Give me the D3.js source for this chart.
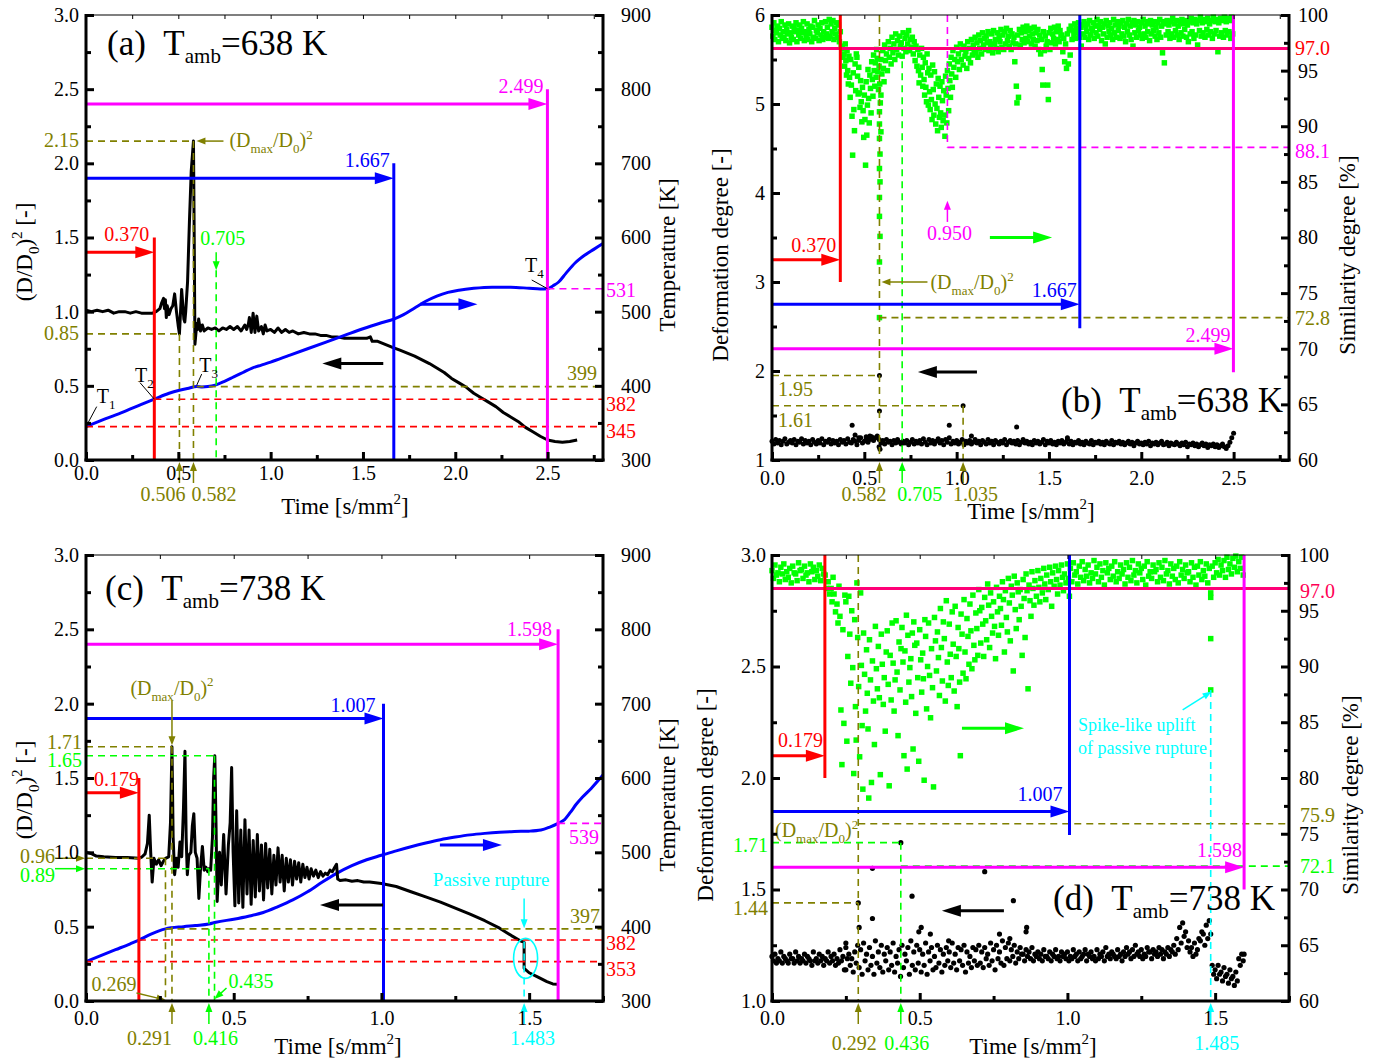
<!DOCTYPE html>
<html><head><meta charset="utf-8">
<script src="https://cdn.jsdelivr.net/npm/d3@7"></script>
<style>body{margin:0;background:#fff}svg{display:block}</style>
</head><body>
<script>
// ================= DATA =================
// Panel (a): (D/D0)^2 vs time, temperature vs time  [time, value]
const aDiamPts=[[0,1.01],[0.03,1.00],[0.06,1.01],[0.09,1.00],[0.12,1.01],[0.15,0.99],[0.18,1.00],[0.21,1.00],[0.24,0.99],[0.27,1.00],[0.30,0.99],[0.33,0.99],[0.36,0.99],[0.38,1.00],[0.40,1.02],[0.41,1.06],[0.42,1.09],[0.425,1.02],[0.43,1.08],[0.435,0.96],[0.44,1.04],[0.45,0.98],[0.46,1.02],[0.47,1.04],[0.48,1.12],[0.49,1.00],[0.50,0.90],[0.506,0.85],[0.512,1.00],[0.518,1.15],[0.524,1.05],[0.53,0.95],[0.535,0.93],[0.54,1.00],[0.55,1.20],[0.56,1.60],[0.57,1.95],[0.582,2.15],[0.586,1.50],[0.59,0.78],[0.595,0.85],[0.60,0.92],[0.605,0.88],[0.61,0.95],[0.62,0.87],[0.63,0.91],[0.64,0.87],[0.66,0.89],[0.68,0.88],[0.70,0.89],[0.72,0.87],[0.74,0.89],[0.76,0.88],[0.78,0.90],[0.80,0.88],[0.82,0.90],[0.84,0.87],[0.86,0.91],[0.87,0.88],[0.88,0.92],[0.885,0.96],[0.895,0.86],[0.905,0.99],[0.915,0.86],[0.925,0.97],[0.935,0.87],[0.95,0.90],[0.96,0.85],[0.97,0.91],[0.98,0.87],[1.00,0.88],[1.02,0.86],[1.04,0.89],[1.06,0.86],[1.08,0.88],[1.10,0.86],[1.12,0.87],[1.15,0.85],[1.18,0.86],[1.21,0.85],[1.24,0.85],[1.27,0.84],[1.30,0.84],[1.33,0.83],[1.36,0.83],[1.40,0.82],[1.44,0.82],[1.48,0.82],[1.52,0.82],[1.54,0.83],[1.55,0.80],[1.58,0.80],[1.62,0.78],[1.66,0.76],[1.70,0.74],[1.74,0.72],[1.78,0.70],[1.82,0.675],[1.86,0.65],[1.90,0.62],[1.94,0.59],[1.98,0.55],[2.02,0.52],[2.06,0.49],[2.10,0.45],[2.14,0.42],[2.18,0.39],[2.22,0.36],[2.26,0.32],[2.30,0.29],[2.34,0.26],[2.38,0.22],[2.42,0.19],[2.46,0.16],[2.50,0.135],[2.54,0.125],[2.58,0.12],[2.62,0.125],[2.66,0.135]];
const aTempPts=[[0,345],[0.1,355],[0.2,364.5],[0.3,375],[0.37,382],[0.45,390],[0.506,394],[0.55,396.5],[0.6,399],[0.63,398.5],[0.66,399],[0.7,401],[0.75,406],[0.8,412],[0.85,418],[0.9,424],[0.95,428],[1.0,432],[1.1,441],[1.2,450],[1.3,459],[1.4,468],[1.5,477],[1.6,485],[1.667,490],[1.72,496],[1.78,505],[1.84,514],[1.9,521],[1.96,526],[2.02,529],[2.1,531.5],[2.2,533],[2.3,533],[2.4,531.5],[2.46,530.5],[2.499,531],[2.53,535],[2.56,540],[2.6,552],[2.65,566],[2.7,576],[2.75,584],[2.8,592]];
// Panel (c)
const cDiamPts=[[0,1.00],[0.02,0.99],[0.035,0.975],[0.06,0.97],[0.10,0.965],[0.14,0.965],[0.179,0.96],[0.19,0.97],[0.20,0.99],[0.208,1.06],[0.214,1.25],[0.219,1.00],[0.224,0.80],[0.23,0.96],[0.238,0.92],[0.246,0.95],[0.254,0.91],[0.262,0.94],[0.269,0.96],[0.28,0.97],[0.286,1.20],[0.291,1.71],[0.295,1.10],[0.30,0.85],[0.306,0.96],[0.312,0.90],[0.318,1.07],[0.324,0.97],[0.33,1.30],[0.335,1.68],[0.339,1.10],[0.343,0.85],[0.348,0.98],[0.355,1.00],[0.36,1.18],[0.365,1.26],[0.37,1.00],[0.376,0.96],[0.382,0.69],[0.388,0.90],[0.394,1.04],[0.40,0.88],[0.406,0.90],[0.412,0.87],[0.416,0.89],[0.422,0.88],[0.428,1.10],[0.432,1.50],[0.436,1.65],[0.44,1.20],[0.444,0.67],[0.452,1.00],[0.458,0.78],[0.466,1.12],[0.474,0.72],[0.482,1.05],[0.488,1.20],[0.493,1.57],[0.498,1.00],[0.504,0.64],[0.51,1.28],[0.517,0.66],[0.524,1.15],[0.531,0.63],[0.538,1.22],[0.545,0.72],[0.552,1.15],[0.559,0.65],[0.566,1.08],[0.573,0.70],[0.58,1.12],[0.587,0.74],[0.594,1.05],[0.601,0.68],[0.608,1.06],[0.615,0.76],[0.622,1.02],[0.629,0.72],[0.636,0.98],[0.643,0.78],[0.65,1.03],[0.657,0.80],[0.664,0.98],[0.671,0.74],[0.678,0.96],[0.685,0.80],[0.692,0.95],[0.699,0.78],[0.706,0.94],[0.713,0.82],[0.72,0.93],[0.727,0.80],[0.734,0.92],[0.741,0.83],[0.748,0.90],[0.755,0.82],[0.762,0.89],[0.77,0.84],[0.778,0.88],[0.786,0.83],[0.794,0.87],[0.802,0.84],[0.81,0.86],[0.818,0.85],[0.826,0.88],[0.834,0.87],[0.842,0.90],[0.848,0.92],[0.852,0.82],[0.86,0.81],[0.88,0.815],[0.90,0.805],[0.92,0.81],[0.94,0.80],[0.96,0.80],[0.98,0.795],[1.00,0.79],[1.05,0.77],[1.10,0.735],[1.15,0.70],[1.20,0.665],[1.25,0.625],[1.30,0.585],[1.35,0.54],[1.40,0.49],[1.44,0.44],[1.47,0.405],[1.483,0.395],[1.483,0.22],[1.50,0.19],[1.53,0.16],[1.56,0.13],[1.58,0.115],[1.598,0.112]];
const cTempPts=[[0,353],[0.05,361],[0.1,369],[0.15,377],[0.179,382],[0.22,390],[0.269,397],[0.33,400],[0.37,401.5],[0.416,403.5],[0.44,406],[0.5,410],[0.55,414],[0.6,419],[0.65,427],[0.7,436],[0.75,447],[0.8,460],[0.85,472],[0.9,482],[0.95,490],[1.0,496],[1.05,502],[1.1,507.5],[1.15,512.5],[1.2,517],[1.25,520.5],[1.3,523.5],[1.35,525.5],[1.4,527],[1.45,528],[1.5,528.5],[1.54,530],[1.57,534],[1.598,539],[1.62,544],[1.64,554],[1.66,565],[1.68,574],[1.71,586],[1.75,604]];
// Panel (b): similarity degree, rows = 0.01 time bins [bin start, frame values...]
const binStep=0.01;
const bSim=[[0.00,98.9,98.1],[0.01,99.3,97.8],[0.02,98.6,98.4],[0.03,99.0,97.6],[0.04,98.8,98.2],[0.05,99.4,97.9],[0.06,98.5,98.0],[0.07,99.1,97.7],[0.08,98.7,98.3],[0.09,99.2,97.5],[0.10,98.4,98.0],[0.11,99.0,97.8],[0.12,98.9,98.5],[0.13,99.3,97.6],[0.14,98.6,98.2],[0.15,99.1,97.9],[0.16,98.8,98.4],[0.17,99.4,97.7],[0.18,98.5,98.1],[0.19,99.2,97.8],[0.20,98.7,98.3],[0.21,99.0,97.6],[0.22,98.9,98.0],[0.23,99.5,97.9],[0.24,98.6,98.4],[0.25,99.1,97.7],[0.26,98.8,98.2],[0.27,99.3,97.8],[0.28,98.5,98.0],[0.29,99.4,98.3],[0.30,98.9,97.9],[0.31,99.6,98.1],[0.32,99.2,98.5],[0.33,99.5,97.8],[0.34,98.8,98.3],[0.35,99.3,98.0],[0.36,99.1,97.6],
[0.37,98.5,97.2],[0.38,97.0,96.2],[0.39,96.5,95.4,97.4],[0.40,95.9,94.6,96.8],[0.41,95.0,93.8,96.3],[0.42,94.4,92.6,96.0],[0.43,93.7,90.9,87.4],[0.44,94.8,91.5,89.6],[0.45,95.6,93.2,96.5],[0.46,96.2,94.5,92.9],[0.47,95.3,93.0,91.7],[0.48,94.1,92.2,90.4],[0.49,93.5,91.4,89.0],[0.50,92.8,90.6,86.5],[0.51,94.0,89.2,91.9],[0.52,95.1,92.5,90.3],[0.53,94.6,93.4,91.2],[0.54,95.8,94.2,92.7],[0.55,96.4,95.0,93.6],[0.56,95.7,94.4,96.9],[0.57,96.1,94.9,93.3],
[0.58,95.4,93.8,92.1],[0.59,96.0,94.7],[0.60,96.8,95.2,94.0],[0.61,97.3,95.9],[0.62,96.5,95.0],[0.63,97.6,96.2],[0.64,97.0,95.6],[0.65,98.0,96.6],[0.66,97.4,96.0],[0.67,98.3,96.9],[0.68,97.7,96.4],[0.69,98.1,97.2],[0.70,97.5,96.3],[0.71,98.4,97.0],[0.72,97.9,96.7],[0.73,98.2,97.4],[0.74,98.6,96.8],[0.75,97.8,97.1],[0.76,98.0,96.5],[0.77,97.6,95.9],[0.78,97.2,95.4],[0.79,96.9,95.0,93.9],[0.80,96.4,94.6],[0.81,97.0,95.3,93.6],[0.82,96.2,94.2,92.8],[0.83,95.7,93.5,92.2],[0.84,96.5,94.8,91.9],[0.85,95.2,93.1,91.5],[0.86,94.6,92.4,90.6],[0.87,95.5,93.3,91.0],[0.88,94.9,92.0,90.2],[0.89,93.8,91.6,89.6],[0.90,94.3,92.6,90.8],[0.91,93.6,91.2,89.9],[0.92,94.0,92.3,90.5],[0.93,93.2,91.0,89.1],[0.94,94.5,92.8,90.3],[0.95,95.0,93.4,91.4],[0.96,95.6,94.1,92.6],[0.97,96.2,94.7,93.5],[0.98,96.8,95.3],[0.99,96.0,94.4],
[1.00,97.1,95.8],[1.01,96.5,95.1],[1.02,97.4,96.0],[1.03,96.9,95.5],[1.04,97.2,96.3],[1.05,96.7,95.2],[1.06,97.6,96.1],[1.07,97.0,95.7],[1.08,97.8,96.4],[1.09,97.3,96.8],[1.10,98.0,96.6],[1.11,97.5,96.2],[1.12,98.2,97.0],[1.13,97.7,96.5],[1.14,98.4,97.3],[1.15,97.9,96.9],[1.16,98.1,97.5],[1.17,98.5,96.8],[1.18,97.6,97.2],[1.19,98.3,96.6],[1.20,98.6,97.4],[1.21,97.8,97.0],[1.22,98.4,96.7],[1.23,98.0,97.6],[1.24,98.7,97.1],[1.25,98.2,96.9],[1.26,98.5,97.4],[1.27,98.8,97.7],[1.28,98.1,97.2],[1.29,98.6,96.9],[1.30,98.3,97.5],[1.31,98.0,95.8],[1.32,97.4,93.6,92.1],[1.33,98.2,92.6],[1.34,98.7,97.3],[1.35,98.4,97.8],[1.36,98.9,97.5],[1.37,98.5,97.9],[1.38,99.0,97.6],[1.39,98.6,98.1],[1.40,98.8,97.4],[1.41,98.3,97.8],[1.42,98.9,97.2],[1.43,98.4,97.7],[1.44,98.7,96.9],[1.45,98.2,96.5],[1.46,97.8,95.1,93.7],[1.47,98.5,96.8],[1.48,98.1,97.2],[1.49,97.6,93.7,92.4],[1.50,98.4,96.9],[1.51,98.8,97.5],[1.52,98.3,97.9],[1.53,98.9,97.4],[1.54,98.5,97.8],[1.55,99.0,97.6],[1.56,98.6,98.1],[1.57,98.2,96.7],[1.58,97.9,95.8],[1.59,97.4,95.2],[1.60,98.3,95.6],[1.61,98.7,96.4],[1.62,99.0,97.8],[1.63,98.6,98.2],[1.64,99.2,97.9],[1.65,98.8,98.4],[1.66,99.3,98.0],[1.67,98.9,97.2],
[1.68,99.1,98.3],[1.69,99.4,98.0],[1.70,98.9,98.5],[1.71,99.2,97.8],[1.72,99.5,98.2],[1.73,98.8,98.6],[1.74,99.3,97.9],[1.75,99.0,98.4],[1.76,99.6,98.1],[1.77,99.1,98.7],[1.78,99.4,97.7],[1.79,98.9,98.3],[1.80,99.2,97.4],[1.81,99.5,98.0],[1.82,99.0,98.5],[1.83,99.3,98.2],[1.84,98.8,97.8],[1.85,99.6,98.4],[1.86,99.1,98.0],[1.87,99.4,98.6],[1.88,99.0,97.9],[1.89,99.3,98.3],[1.90,99.5,98.1],[1.91,98.9,97.6],[1.92,99.2,98.5],[1.93,99.6,98.2],[1.94,99.0,97.8],[1.95,99.3,97.2],[1.96,99.5,98.4],[1.97,99.1,98.0],[1.98,99.4,98.6],[1.99,98.9,98.2],[2.00,99.3,97.9],[2.01,99.6,98.3],[2.02,99.0,98.0],[2.03,99.4,98.5],[2.04,99.2,97.7],[2.05,99.5,98.3],[2.06,99.1,98.6],[2.07,99.4,98.1],[2.08,98.9,97.8],[2.09,99.3,98.4],[2.10,99.6,98.0],[2.11,99.0,96.6],[2.12,99.4,95.7],[2.13,99.2,98.2],[2.14,99.5,98.5],[2.15,99.1,97.9],[2.16,99.4,98.3],[2.17,99.7,98.0],[2.18,99.2,98.6],[2.19,99.5,98.2],[2.20,99.0,97.8],[2.21,99.4,98.4],[2.22,99.6,98.1],[2.23,99.2,98.7],[2.24,99.5,98.0],[2.25,99.1,97.6],[2.26,99.4,98.3],[2.27,99.7,98.5],[2.28,99.3,97.9],[2.29,99.6,98.2],[2.30,99.2,97.3],[2.31,99.5,98.6],[2.32,99.8,98.1],[2.33,99.3,98.4],[2.34,99.6,98.0],[2.35,99.4,98.7],[2.36,99.7,98.2],[2.37,99.2,98.5],[2.38,99.5,97.9],[2.39,99.8,98.3],[2.40,99.4,98.6],[2.41,99.6,96.7],[2.42,99.3,98.1],[2.43,99.7,98.4],[2.44,99.5,98.0],[2.45,99.8,98.6],[2.46,99.4,98.2],[2.47,99.7,98.5],[2.48,99.5,97.9],[2.49,99.8,98.3]];
const bSimExtra=[[0.582,91.3],[0.582,90.2],[0.582,88.9],[0.585,87.5],[0.582,86.2],[0.585,85.0],[0.582,83.6],[0.582,81.9],[0.585,80.1],[0.582,77.8],[0.582,72.8],[0.59,89.5],[0.59,92.8]];
// Panel (b): deformation degree, one value per 0.01 time bin
const bDef=[1.21,1.18,1.23,1.19,1.22,1.17,1.21,1.24,1.18,1.20,1.22,1.19,1.23,1.17,1.21,1.20,1.24,1.18,1.22,1.19,1.21,1.17,1.23,1.20,1.18,1.22,1.19,1.24,1.17,1.21,1.20,1.23,1.18,1.22,1.19,1.21,1.17,1.23,1.20,1.22,1.18,1.24,1.20,1.19,1.23,1.21,1.17,1.22,1.25,1.19,1.21,1.24,1.20,1.23,1.26,1.22,1.25,1.27,1.23,1.19,1.22,1.18,1.23,1.20,1.21,1.17,1.22,1.19,1.23,1.20,1.18,1.21,1.19,1.22,1.17,1.20,1.23,1.18,1.21,1.19,1.22,1.18,1.24,1.20,1.17,1.23,1.19,1.22,1.18,1.21,1.24,1.19,1.22,1.17,1.23,1.20,1.25,1.18,1.21,1.19,1.22,1.18,1.20,1.23,1.17,1.21,1.19,1.22,1.18,1.20,1.23,1.19,1.21,1.17,1.22,1.20,1.18,1.23,1.19,1.21,1.17,1.22,1.20,1.18,1.21,1.19,1.23,1.17,1.20,1.22,1.19,1.21,1.18,1.22,1.17,1.20,1.23,1.19,1.21,1.18,1.20,1.17,1.22,1.19,1.21,1.18,1.20,1.23,1.17,1.21,1.19,1.22,1.18,1.20,1.17,1.21,1.19,1.22,1.18,1.20,1.23,1.18,1.21,1.17,1.20,1.19,1.22,1.18,1.20,1.17,1.21,1.19,1.18,1.22,1.17,1.20,1.19,1.21,1.18,1.20,1.17,1.21,1.19,1.18,1.22,1.17,1.20,1.19,1.21,1.18,1.20,1.17,1.19,1.21,1.18,1.20,1.16,1.19,1.21,1.18,1.19,1.17,1.20,1.18,1.21,1.16,1.19,1.18,1.20,1.17,1.19,1.21,1.17,1.18,1.20,1.16,1.19,1.18,1.17,1.20,1.18,1.16,1.19,1.17,1.20,1.15,1.18,1.17,1.19,1.16,1.18,1.15,1.17,1.19,1.16,1.18,1.14,1.17,1.16,1.18,1.15,1.17,1.14,1.16,1.18,1.15,1.13,1.16,1.20,1.25,1.30];
const bDefExtra=[[0.434,1.39],[0.45,1.28],[0.47,1.25],[0.51,1.26],[0.53,1.27],[0.582,1.95],[0.582,1.55],[0.58,1.15],[0.585,1.12],[0.96,1.39],[1.035,1.61],[1.08,1.27],[1.325,1.37],[1.6,1.25]];
// Panel (d): similarity degree rows [bin start, frame values...]
const dSim=[[0.00,98.6,97.9],[0.01,99.1,98.2],[0.02,98.4,97.6],[0.03,98.9,98.3],[0.04,99.2,97.8],[0.05,98.5,98.0],[0.06,98.8,97.5],[0.07,99.0,98.4],[0.08,98.3,97.7],[0.09,99.3,98.6],[0.10,98.7,97.9],[0.11,99.0,98.2],[0.12,98.4,97.6],[0.13,99.2,98.5],[0.14,98.9,97.8],[0.15,98.6,98.1],[0.16,99.1,97.7],[0.17,98.8,98.3],[0.18,98.2,97.0],[0.19,97.6,96.5],
[0.20,97.0,95.8,98.0],[0.21,96.5,94.9],[0.22,95.6,93.9,97.2],[0.23,94.5,86.1,81.2],[0.24,93.3,84.9,96.4],[0.25,95.8,83.3,90.9],[0.26,96.3,92.9,88.5],[0.27,95.0,89.9,80.4],[0.28,94.2,86.4,83.4,97.5],[0.29,92.6,88.2,81.9],[0.30,96.6,90.1,84.7,79.0],[0.31,93.0,89.3,86.0],[0.32,91.5,87.6,84.4,78.2],[0.33,92.4,88.8,79.6],[0.34,90.5,86.9,83.0],[0.35,93.6,89.8,88.0],[0.36,91.8,87.2,80.3],[0.37,92.9,90.2,86.6],[0.38,89.0,84.2,91.3],[0.39,93.2,88.4,79.3],
[0.40,91.0,87.0,93.9],[0.41,90.3,86.0,88.8],[0.42,94.1,89.5,83.8],[0.43,92.2,87.9,91.6],[0.44,93.5,90.4,82.0],[0.45,91.4,86.8,94.6,80.8],[0.46,92.8,88.6,89.9],[0.47,90.7,87.3,93.0,82.6],[0.48,94.0,91.9,85.8],[0.49,92.1,89.0,81.5],[0.50,93.3,90.6,87.7],[0.51,91.2,88.9,79.8,94.2],[0.52,92.7,86.2,90.0],[0.53,93.9,89.2,85.4],[0.54,91.6,88.1,79.2],[0.55,94.4,92.3,89.6],[0.56,93.1,90.8,87.4],[0.57,95.2,91.7,88.7],[0.58,94.0,92.5,86.9],[0.59,95.9,90.4,88.3],
[0.60,93.8,91.1,89.0],[0.61,94.9,92.0,87.8],[0.62,95.4,90.9,86.4],[0.63,93.5,91.6,88.6,82.0],[0.64,94.7,92.9,89.4],[0.65,96.0,91.3,88.9],[0.66,94.3,92.7,90.2],[0.67,95.6,93.2,89.8],[0.68,96.4,91.9,90.6],[0.69,94.8,93.4,91.0],[0.70,96.9,95.0,92.1],[0.71,95.3,93.8,90.9],[0.72,96.2,94.1,92.4],[0.73,97.4,95.5,91.7],[0.74,96.6,94.5,93.0],[0.75,95.8,93.6,90.7],[0.76,97.1,94.9,92.8],[0.77,96.3,95.2,93.7],[0.78,97.6,96.0,91.3],[0.79,96.8,94.4,93.1],
[0.80,97.9,95.7,92.3],[0.81,97.2,96.4,89.6],[0.82,98.1,95.1,93.4],[0.83,97.5,96.7,94.2],[0.84,96.9,95.4,91.0],[0.85,97.8,96.1,92.6],[0.86,98.3,96.8,88.0],[0.87,97.3,95.9,94.5],[0.88,98.5,97.0,95.5],[0.89,97.7,96.3],[0.90,98.6,97.1,95.8],[0.91,97.9,96.6],[0.92,98.8,97.4,96.0],[0.93,98.2,96.9],[0.94,98.9,97.6,95.4],[0.95,98.4,97.2],[0.96,99.0,97.8,96.5],[0.97,98.6,97.3],[0.98,99.1,98.0,96.8],[0.99,98.3,97.5],
[1.00,99.2,97.9,96.3],[1.01,98.8,97.6],[1.02,99.3,98.2],[1.03,98.5,97.4],[1.04,99.0,98.0],[1.05,99.4,97.7],[1.06,98.7,98.1],[1.07,99.1,97.5],[1.08,98.4,97.9],[1.09,99.5,98.3],[1.10,98.9,97.6],[1.11,99.2,98.0],[1.12,98.6,97.3],[1.13,99.3,98.4],[1.14,98.8,97.8],[1.15,99.0,98.1],[1.16,99.4,97.6],[1.17,98.5,97.9],[1.18,99.1,98.3],[1.19,98.7,97.4],[1.20,99.3,98.0],[1.21,98.9,97.7],[1.22,99.5,98.2],[1.23,98.6,97.5],[1.24,99.2,98.4],[1.25,98.8,97.8],[1.26,99.0,97.3],[1.27,99.4,98.1],[1.28,98.5,97.9],[1.29,99.1,98.5],[1.30,98.7,97.6],[1.31,99.3,98.0],[1.32,98.9,97.7],[1.33,99.5,98.3],[1.34,98.6,97.4],[1.35,99.2,98.1],[1.36,98.8,97.8],[1.37,99.0,97.5],[1.38,99.4,98.2],[1.39,98.7,97.9],[1.40,99.1,98.4],[1.41,98.5,97.6],[1.42,99.3,98.0],[1.43,98.9,97.3],[1.44,99.0,98.2],[1.45,99.4,97.8],[1.46,98.6,98.1],[1.47,99.2,97.5],[1.48,98.8,96.6],[1.49,99.0,98.0],[1.50,99.3,98.4],[1.51,99.6,98.2],[1.52,99.1,98.6],[1.53,99.5,98.0],[1.54,99.8,98.7],[1.55,99.2,98.3],[1.56,99.7,98.9],[1.57,99.9,98.5],[1.58,99.4,98.8],[1.59,99.8,98.2]];
const dSimExtra=[[1.485,96.2],[1.485,92.5],[1.485,87.9]];
// Panel (d): deformation degree, two frame values per 0.01 time bin
const dDef=[[1.20,1.18],[1.21,1.17],[1.19,1.18],[1.22,1.17],[1.20,1.19],[1.18,1.17],[1.21,1.19],[1.19,1.17],[1.22,1.18],[1.20,1.17],
[1.19,1.18],[1.21,1.17],[1.20,1.19],[1.18,1.16],[1.22,1.18],[1.19,1.17],[1.21,1.18],[1.20,1.16],[1.19,1.18],[1.22,1.17],
[1.20,1.18],[1.21,1.16],[1.19,1.17],[1.23,1.18],[1.20,1.14],[1.24,1.19],[1.21,1.16],[1.19,1.13],[1.22,1.17],[1.25,1.15],
[1.23,1.12],[1.26,1.18],[1.21,1.14],[1.24,1.16],[1.20,1.12],[1.27,1.17],[1.22,1.15],[1.25,1.13],[1.21,1.18],[1.24,1.14],
[1.22,1.16],[1.26,1.13],[1.20,1.17],[1.23,1.11],[1.25,1.15],[1.21,1.18],[1.24,1.12],[1.27,1.16],[1.22,1.14],[1.25,1.17],
[1.23,1.13],[1.21,1.16],[1.26,1.12],[1.22,1.18],[1.24,1.14],[1.20,1.15],[1.25,1.17],[1.23,1.13],[1.21,1.16],[1.24,1.18],
[1.22,1.15],[1.26,1.17],[1.21,1.14],[1.24,1.18],[1.23,1.16],[1.25,1.13],[1.22,1.17],[1.20,1.15],[1.24,1.18],[1.23,1.16],
[1.25,1.17],[1.22,1.15],[1.24,1.19],[1.21,1.16],[1.26,1.18],[1.23,1.14],[1.25,1.19],[1.22,1.17],[1.27,1.16],[1.24,1.19],
[1.26,1.18],[1.23,1.20],[1.25,1.17],[1.22,1.19],[1.24,1.21],[1.21,1.18],[1.23,1.20],[1.22,1.19],[1.24,1.18],[1.21,1.20],
[1.22,1.19],[1.21,1.18],[1.23,1.20],[1.20,1.19],[1.22,1.18],[1.21,1.20],[1.23,1.19],[1.20,1.18],[1.22,1.20],[1.21,1.19],
[1.22,1.18],[1.20,1.19],[1.23,1.20],[1.21,1.18],[1.22,1.19],[1.20,1.21],[1.23,1.18],[1.21,1.20],[1.22,1.19],[1.20,1.18],
[1.23,1.19],[1.21,1.20],[1.22,1.18],[1.24,1.20],[1.21,1.19],[1.22,1.21],[1.20,1.19],[1.23,1.20],[1.21,1.18],[1.22,1.20],
[1.24,1.21],[1.22,1.19],[1.23,1.20],[1.25,1.21],[1.22,1.20],[1.23,1.19],[1.21,1.20],[1.24,1.22],[1.22,1.19],[1.23,1.21],
[1.22,1.20],[1.24,1.21],[1.23,1.19],[1.22,1.21],[1.24,1.20],[1.23,1.22],[1.25,1.21],[1.28,1.23],[1.33,1.26],[1.35,1.29],
[1.31,1.24],[1.27,1.22],[1.24,1.20],[1.26,1.21],[1.23,1.28],[1.27,1.31],[1.30,1.25],[1.34,1.28],[1.36,1.30],[1.16,1.12],
[1.14,1.10],[1.16,1.12],[1.13,1.09],[1.15,1.11],[1.12,1.08],[1.14,1.10],[1.11,1.07],[1.13,1.09],[1.19,1.16],[1.21,1.18]];
const dDefExtra=[[0.292,1.44],[0.295,1.33],[0.34,1.37],[0.436,1.71],[0.34,1.595],[0.72,1.58],[0.474,1.47],[0.817,1.45],[0.505,1.33],[0.497,1.31],[0.536,1.30],[0.862,1.33],[0.86,1.31],[0.598,1.27],[0.77,1.30],[0.805,1.28],[0.25,1.26],[0.25,1.14],[1.598,1.21]];
// Tick values
const xTicksAB=[0,0.5,1,1.5,2,2.5], xMinorAB=[0.25,0.75,1.25,1.75,2.25,2.75];
const xTicksCD=[0,0.5,1,1.5], xMinorCD=[0.25,0.75,1.25,1.75];
const diamTicks=[0,0.5,1,1.5,2,2.5,3], diamMinor=[0.25,0.75,1.25,1.75,2.25,2.75];
const tempTicks=[300,400,500,600,700,800,900], tempMinor=[350,450,550,650,750,850];
const bDefTicks=[1,2,3,4,5,6], bDefMinor=[1.5,2.5,3.5,4.5,5.5];
const dDefTicks=[1,1.5,2,2.5,3], dDefMinor=[1.25,1.75,2.25,2.75];
const simTicks=[60,65,70,75,80,85,90,95,100], simMinor=[62.5,67.5,72.5,77.5,82.5,87.5,92.5,97.5];

// ================= DRAWING =================
const FONT='"Liberation Serif","Times New Roman",serif';
const C={red:"#ff0000",blue:"#0000ff",mag:"#ff00ff",olive:"#808000",green:"#00ff00",cyan:"#00ffff",pink:"#ff0077"};
const svg=d3.select("body").append("svg").attr("width",1384).attr("height",1063);
svg.append("rect").attr("width",1384).attr("height",1063).attr("fill","#fff");

function panel(o){
  return {g:svg.append("g"),o,
    x:d3.scaleLinear().domain(o.xDom).range([o.x0,o.x1]),
    yL:d3.scaleLinear().domain(o.yLDom).range([o.y0,o.y1]),
    yR:d3.scaleLinear().domain(o.yRDom).range([o.y0,o.y1])};
}
function solid(g,x1,y1,x2,y2,c,w){g.append("line").attr("x1",x1).attr("y1",y1).attr("x2",x2).attr("y2",y2).attr("stroke",c).attr("stroke-width",w);}
function dash(g,x1,y1,x2,y2,c){g.append("line").attr("x1",x1).attr("y1",y1).attr("x2",x2).attr("y2",y2).attr("stroke",c).attr("stroke-width",1.6).attr("stroke-dasharray","7,5");}
function arrow(g,x1,y1,x2,y2,c,w,hl,hw){
  const a=Math.atan2(y2-y1,x2-x1),co=Math.cos(a),si=Math.sin(a);
  const bx=x2-hl*co,by=y2-hl*si;
  solid(g,x1,y1,bx+co,by+si,c,w);
  g.append("path").attr("d",`M${x2},${y2}L${bx-hw/2*si},${by+hw/2*co}L${bx+hw/2*si},${by-hw/2*co}Z`).attr("fill",c);
}
const thick=(g,x1,y1,x2,y2,c)=>arrow(g,x1,y1,x2,y2,c,3,19,12);
const thin=(g,x1,y1,x2,y2,c)=>arrow(g,x1,y1,x2,y2,c,1.5,9,7);
function parse(s){const out=[];const re=/([_^])\{([^}]*)\}/g;let last=0,m;
  while((m=re.exec(s))){if(m.index>last)out.push({t:s.slice(last,m.index)});out.push({t:m[2],sub:m[1]==="_",sup:m[1]==="^"});last=re.lastIndex;}
  if(last<s.length)out.push({t:s.slice(last)});return out;}
function rich(g,x,y,s,o){
  o=Object.assign({size:20,color:"#000",anchor:"start",sub:0.3,sup:-0.42,small:0.65},o||{});
  const t=g.append("text").attr("x",x).attr("y",y).attr("font-family",FONT).attr("font-size",o.size).attr("fill",o.color).attr("text-anchor",o.anchor);
  if(o.rotate)t.attr("transform",`rotate(${o.rotate},${x},${y})`);
  let cur=0;
  parse(s).forEach(p=>{const target=p.sub?o.sub*o.size:p.sup?o.sup*o.size:0;
    const ts=t.append("tspan").attr("dy",target-cur).text(p.t);
    if(p.sub||p.sup)ts.attr("font-size",o.size*o.small);cur=target;});
  return t;
}
function axes(P,t){
  const o=P.o,ax=P.g.append("g");
  const st=(s,w)=>{s.select(".domain").remove();s.selectAll(".tick line").attr("stroke","#000").attr("stroke-width",w);
    s.selectAll(".tick text").attr("font-family",FONT).attr("font-size",20).attr("fill","#000");};
  ax.append("g").attr("transform",`translate(0,${o.y0})`).call(d3.axisBottom(P.x).tickValues(t.xMinor).tickSize(-5).tickFormat("")).call(s=>st(s,3));
  ax.append("g").attr("transform",`translate(0,${o.y0})`).call(d3.axisBottom(P.x).tickValues(t.xMajor).tickSize(-8).tickPadding(o.xPad).tickFormat(d3.format(".1f"))).call(s=>st(s,3));
  ax.append("g").attr("transform",`translate(0,${o.y1})`).call(d3.axisTop(P.x).tickValues(t.xMajor.concat(t.xMinor)).tickSize(-4).tickFormat("")).call(s=>st(s,1));
  ax.append("g").attr("transform",`translate(${o.x0},0)`).call(d3.axisLeft(P.yL).tickValues(t.yLMinor).tickSize(-5).tickFormat("")).call(s=>st(s,3));
  ax.append("g").attr("transform",`translate(${o.x0},0)`).call(d3.axisLeft(P.yL).tickValues(t.yLMajor).tickSize(-8).tickPadding(o.yLPad).tickFormat(d3.format(t.yLFmt))).call(s=>st(s,3));
  ax.append("g").attr("transform",`translate(${o.x1},0)`).call(d3.axisRight(P.yR).tickValues(t.yRMinor).tickSize(-5).tickFormat("")).call(s=>st(s,3));
  ax.append("g").attr("transform",`translate(${o.x1},0)`).call(d3.axisRight(P.yR).tickValues(t.yRMajor).tickSize(-8).tickPadding(o.yRPad).tickFormat(d3.format("d"))).call(s=>st(s,3));
  solid(ax,o.x0,o.y1,o.x1,o.y1,"#000",1.2);
  solid(ax,o.x0,o.y1-1,o.x0,o.y0+1.5,"#000",3);
  solid(ax,o.x1,o.y1-1,o.x1,o.y0+1.5,"#000",3);
  solid(ax,o.x0-1.5,o.y0,o.x1+1.5,o.y0,"#000",3);
}
function titles(P,L,R,B){
  rich(P.g,L[0],L[1],L[2],{size:23,anchor:"middle",rotate:-90});
  rich(P.g,R[0],R[1],R[2],{size:23,anchor:"middle",rotate:-90});
  rich(P.g,B[0],B[1],"Time [s/mm^{2}]",{size:23,anchor:"middle"});
}
function curve(P,pts,yS,c,smooth){
  const ln=d3.line().x(d=>P.x(d[0])).y(d=>yS(d[1]));if(smooth)ln.curve(d3.curveMonotoneX);
  P.g.append("path").datum(pts).attr("d",ln).attr("fill","none").attr("stroke",c).attr("stroke-width",3).attr("stroke-linejoin","round");
}
function squares(P,pts,c,s){
  P.g.append("g").selectAll("rect").data(pts).join("rect").attr("x",d=>P.x(d[0])-s/2).attr("y",d=>P.yR(d[1])-s/2).attr("width",s).attr("height",s).attr("fill",c);
}
function dots(P,pts,r){
  P.g.append("g").selectAll("circle").data(pts).join("circle").attr("cx",d=>P.x(d[0])).attr("cy",d=>P.yL(d[1])).attr("r",r).attr("fill","#000");
}
// frames inside a 0.01 bin are spread evenly across the bin
function binFrames(rows){const out=[];rows.forEach(r=>{const n=r.length-1;for(let k=1;k<=n;k++)out.push([r[0]+(k-1)*binStep/n,r[k]]);});return out;}
function T(g,str,x,y,c,anchor,size){return rich(g,x,y,str,{color:c,anchor:anchor||"start",size:size||20});}
function upArrow(P,t,c){thin(P.g,P.x(t),P.o.y0+23,P.x(t),P.o.y0+2,c);}
function tLabel(g,px,py,tx,ty,lx,ly,s){T(g,s,px+tx,py+ty,"#000");solid(g,px+lx,py+ly,px,py,"#000",1);}
const NB="\u00a0\u00a0";

// ---------- Panel (a) ----------
{
const P=panel({x0:86,x1:603,y0:460,y1:15,xDom:[0,2.8],yLDom:[0,3],yRDom:[300,900],xPad:6,yLPad:7,yRPad:18});
const {g,x,yL,yR,o}=P;
curve(P,aDiamPts,yL,"#000");
curve(P,aTempPts,yR,C.blue,true);
dash(g,x(0.6),yR(399),x(2.8),yR(399),C.olive);
dash(g,x(0.37),yR(382),x(2.8),yR(382),C.red);
dash(g,x(0),yR(345),x(2.8),yR(345),C.red);
dash(g,x(2.499),yR(531),x(2.8),yR(531),C.mag);
dash(g,x(0),yL(2.15),x(0.582),yL(2.15),C.olive);
dash(g,x(0.582),yL(2.15),x(0.582),yL(0),C.olive);
dash(g,x(0),yL(0.85),x(0.506),yL(0.85),C.olive);
dash(g,x(0.506),yL(0.85),x(0.506),yL(0),C.olive);
dash(g,x(0.705),yL(1.28),x(0.705),yL(0),C.green);
thin(g,x(0.705),yL(1.40),x(0.705),yL(1.28),C.green);
thick(g,x(0),yL(2.4),x(2.499),yL(2.4),C.mag); solid(g,x(2.499),yL(2.5),x(2.499),yL(0),C.mag,3);
thick(g,x(0),yL(1.9),x(1.667),yL(1.9),C.blue); solid(g,x(1.667),yL(2.0),x(1.667),yL(0),C.blue,3);
thick(g,x(0),yL(1.4),x(0.370),yL(1.4),C.red); solid(g,x(0.370),yL(1.5),x(0.370),yL(0),C.red,3);
thick(g,x(1.81),yR(510),x(2.12),yR(510),C.blue);
thick(g,x(1.61),yL(0.65),x(1.28),yL(0.65),"#000");
thin(g,x(0.582)+30,yL(2.15),x(0.582)+3,yL(2.15),C.olive);
T(g,"(D_{max}/D_{0})^{2}",x(0.582)+36,yL(2.15)+6,C.olive);
T(g,"2.499",x(2.499)-4,yL(2.5)+4,C.mag,"end");
T(g,"1.667",x(1.667)-4,yL(2.0)+4,C.blue,"end");
T(g,"0.370",x(0.370)-5,yL(1.5)+3,C.red,"end");
T(g,"0.705",x(0.705)-16,yL(1.4)-7,C.green);
T(g,"2.15",o.x0-7,yL(2.15)+6,C.olive,"end");
T(g,"0.85",o.x0-7,yL(0.85)+6,C.olive,"end");
T(g,"399",o.x1-6,yR(399)-7,C.olive,"end");
T(g,"382",o.x1+3,yR(382)+12,C.red);
T(g,"345",o.x1+3,yR(345)+11,C.red);
T(g,"531",o.x1+3,yR(531)+8,C.mag);
upArrow(P,0.506,C.olive); upArrow(P,0.582,C.olive);
T(g,"0.506",x(0.506)+6,o.y0+41,C.olive,"end");
T(g,"0.582",x(0.582)-2,o.y0+41,C.olive);
tLabel(g,x(0),yR(345),10.7,-23.6,10.7,-20,"T_{1}");
tLabel(g,x(0.37),yR(382),-19.3,-17.5,-14.3,-16.5,"T_{2}");
tLabel(g,x(0.6),yR(401),2.5,-13.4,4.9,-11,"T_{3}");
tLabel(g,x(2.499),yR(531),-22.4,-17,-15.7,-8.7,"T_{4}");
rich(g,107,55,"(a)"+NB+"T_{amb}=638 K",{size:35,sub:0.24,small:0.6});
axes(P,{xMajor:xTicksAB,xMinor:xMinorAB,yLMajor:diamTicks,yLMinor:diamMinor,yLFmt:".1f",yRMajor:tempTicks,yRMinor:tempMinor});
titles(P,[32,252,"(D/D_{0})^{2} [-]"],[675,255,"Temperature [K]"],[345,514]);
}

// ---------- Panel (b) ----------
{
const P=panel({x0:772,x1:1289,y0:460,y1:15,xDom:[0,2.8],yLDom:[1,6],yRDom:[60,100],xPad:11,yLPad:7,yRPad:9});
const {g,x,yL,yR,o}=P;
squares(P,binFrames(bSim).concat(bSimExtra),C.green,5.5);
dots(P,bDef.map((v,i)=>[i*binStep,v]).concat(bDefExtra),2.5);
solid(g,x(0),yR(97),x(2.8),yR(97),C.pink,3);
T(g,"97.0",o.x1+6,yR(97)+7,C.red);
dash(g,x(0.582),yL(6),x(0.582),yL(1),C.olive);
dash(g,x(0),yL(1.95),x(0.582),yL(1.95),C.olive);
dash(g,x(0),yL(1.61),x(1.035),yL(1.61),C.olive);
dash(g,x(1.035),yL(1.61),x(1.035),yL(1),C.olive);
dash(g,x(0.705),yL(5.48),x(0.705),yL(1),C.green);
dash(g,x(0.95),yL(6),x(0.95),yR(88.1),C.mag);
dash(g,x(0.95),yR(88.1),x(2.8),yR(88.1),C.mag);
dash(g,x(0.582),yR(72.8),x(2.8),yR(72.8),C.olive);
thick(g,x(0),yL(3.25),x(0.370),yL(3.25),C.red); solid(g,x(0.370),yL(6),x(0.370),yL(3.0),C.red,3);
thick(g,x(0),yL(2.75),x(1.667),yL(2.75),C.blue); solid(g,x(1.667),yL(6),x(1.667),yL(2.48),C.blue,3);
thick(g,x(0),yL(2.25),x(2.499),yL(2.25),C.mag); solid(g,x(2.499),yL(6),x(2.499),yL(1.985),C.mag,3);
thick(g,x(1.18),yR(80),x(1.517),yR(80),C.green);
thick(g,x(1.11),yL(1.99),x(0.79),yL(1.99),"#000");
thin(g,x(0.95),yR(81.4),x(0.95),yR(83.3),C.mag);
T(g,"0.950",x(0.95)+2,yR(81.4)+18,C.mag,"middle");
thin(g,x(0.582)+48,yL(3.0),x(0.582)+2,yL(3.0),C.olive);
T(g,"(D_{max}/D_{0})^{2}",x(0.582)+51,yL(3.0)+7,C.olive);
T(g,"0.370",x(0.370)-4,yL(3.25)-8,C.red,"end");
T(g,"1.667",x(1.667)-3,yL(2.75)-7,C.blue,"end");
T(g,"2.499",x(2.499)-3,yL(2.25)-7,C.mag,"end");
T(g,"1.95",o.x0+6,yL(1.95)+21,C.olive);
T(g,"1.61",o.x0+6,yL(1.61)+21,C.olive);
T(g,"88.1",o.x1+6,yR(88.1)+11,C.mag);
T(g,"72.8",o.x1+6,yR(72.8)+7,C.olive);
upArrow(P,0.582,C.olive); upArrow(P,0.705,C.green); upArrow(P,1.035,C.olive);
T(g,"0.582",x(0.582)+7,o.y0+41,C.olive,"end");
T(g,"0.705",x(0.705)-5,o.y0+41,C.green);
T(g,"1.035",x(1.035)-10,o.y0+41,C.olive);
rich(g,1061,412,"(b)"+NB+"T_{amb}=638 K",{size:35,sub:0.24,small:0.6});
axes(P,{xMajor:xTicksAB,xMinor:xMinorAB,yLMajor:bDefTicks,yLMinor:bDefMinor,yLFmt:"d",yRMajor:simTicks,yRMinor:simMinor});
titles(P,[728,255,"Deformation degree [-]"],[1355,255,"Similarity degree [%]"],[1031,519]);
}

// ---------- Panel (c) ----------
{
const P=panel({x0:86,x1:603,y0:1001,y1:555,xDom:[0,1.75],yLDom:[0,3],yRDom:[300,900],xPad:10,yLPad:7,yRPad:18});
const {g,x,yL,yR,o}=P;
curve(P,cTempPts,yR,C.blue,true);
curve(P,cDiamPts,yL,"#000");
dash(g,x(0.269),yR(397),x(1.75),yR(397),C.olive);
dash(g,x(0.179),yR(382),x(1.75),yR(382),C.red);
dash(g,x(0),yR(353),x(1.75),yR(353),C.red);
dash(g,x(1.598),yR(539),x(1.75),yR(539),C.mag);
dash(g,x(0),yL(1.71),x(0.291),yL(1.71),C.olive);
dash(g,x(0.291),yL(1.71),x(0.291),yL(0),C.olive);
dash(g,x(0),yL(1.65),x(0.435),yL(1.65),C.green);
dash(g,x(0.435),yL(1.65),x(0.435),yL(0),C.green);
dash(g,x(0),yL(0.96),x(0.269),yL(0.96),C.olive);
dash(g,x(0.269),yL(0.96),x(0.269),yL(0),C.olive);
dash(g,x(0),yL(0.89),x(0.416),yL(0.89),C.green);
dash(g,x(0.416),yL(0.89),x(0.416),yL(0),C.green);
dash(g,x(1.483),yL(0.40),x(1.483),yL(0),C.cyan);
thick(g,x(0),yL(2.4),x(1.598),yL(2.4),C.mag); solid(g,x(1.598),yL(2.5),x(1.598),yL(0),C.mag,3);
thick(g,x(0),yL(1.9),x(1.007),yL(1.9),C.blue); solid(g,x(1.007),yL(2.0),x(1.007),yL(0),C.blue,3);
thick(g,x(0),yL(1.4),x(0.179),yL(1.4),C.red); solid(g,x(0.179),yL(1.5),x(0.179),yL(0),C.red,3);
thick(g,x(1.198),yR(510),x(1.408),yR(510),C.blue);
thick(g,x(1.005),yL(0.646),x(0.792),yL(0.646),"#000");
g.append("ellipse").attr("cx",x(1.488)).attr("cy",yL(0.287)).attr("rx",12).attr("ry",20).attr("fill","none").attr("stroke",C.cyan).attr("stroke-width",1.6);
thin(g,x(1.483),yL(0.69),x(1.483),yL(0.49),C.cyan);
T(g,"Passive rupture",x(1.174),yL(0.775),C.cyan,"start",19);
thin(g,x(0.291),yL(2.02),x(0.291),yL(1.72),C.olive);
T(g,"(D_{max}/D_{0})^{2}",x(0.291),yL(2.06),C.olive,"middle");
T(g,"1.598",x(1.598)-6,yL(2.5)+7,C.mag,"end");
T(g,"1.007",x(1.007)-8,yL(2.0)+8,C.blue,"end");
T(g,"0.179",x(0.179),yL(1.5)+8,C.red,"end");
T(g,"1.71",o.x0-4,yL(1.71)+2,C.olive,"end");
T(g,"1.65",o.x0-4,yL(1.65)+11,C.green,"end");
thin(g,o.x0-31,yL(0.96),o.x0-1,yL(0.96),C.olive);
T(g,"0.96",o.x0-31,yL(0.96)+5,C.olive,"end");
thin(g,o.x0-31,yL(0.89),o.x0-1,yL(0.89),C.green);
T(g,"0.89",o.x0-31,yL(0.89)+13,C.green,"end");
thin(g,x(0.269)-29,o.y0-8,x(0.269),o.y0-1,C.olive);
T(g,"0.269",x(0.269)-29,o.y0-10,C.olive,"end");
thin(g,x(0.435)+12,o.y0-13,x(0.435),o.y0-2,C.green);
T(g,"0.435",x(0.435)+14,o.y0-13,C.green);
T(g,"397",o.x1-3,yR(397)-6,C.olive,"end");
T(g,"382",o.x1+3,yR(382)+10,C.red);
T(g,"353",o.x1+3,yR(353)+14,C.red);
T(g,"539",x(1.598)+11,yR(539)+21,C.mag);
upArrow(P,0.291,C.olive); upArrow(P,0.416,C.green); upArrow(P,1.483,C.cyan);
T(g,"0.291",x(0.291),o.y0+44,C.olive,"end");
T(g,"0.416",x(0.416)-16,o.y0+44,C.green);
T(g,"1.483",x(1.483)-14,o.y0+44,C.cyan);
rich(g,105,600,"(c)"+NB+"T_{amb}=738 K",{size:35,sub:0.24,small:0.6});
axes(P,{xMajor:xTicksCD,xMinor:xMinorCD,yLMajor:diamTicks,yLMinor:diamMinor,yLFmt:".1f",yRMajor:tempTicks,yRMinor:tempMinor});
titles(P,[32,790,"(D/D_{0})^{2} [-]"],[675,795,"Temperature [K]"],[338,1054]);
}

// ---------- Panel (d) ----------
{
const P=panel({x0:772,x1:1289,y0:1001,y1:555,xDom:[0,1.75],yLDom:[1,3],yRDom:[60,100],xPad:10,yLPad:6,yRPad:10});
const {g,x,yL,yR,o}=P;
squares(P,binFrames(dSim).concat(dSimExtra),C.green,5.5);
dots(P,binFrames(dDef.map((r,i)=>[i*binStep].concat(r))).concat(dDefExtra),2.6);
solid(g,x(0),yR(97),x(1.75),yR(97),C.pink,3);
T(g,"97.0",o.x1+11,yR(97)+10,"#ff0055");
dash(g,x(0.292),yL(3),x(0.292),yL(1),C.olive);
dash(g,x(0.292),yR(75.9),x(1.75),yR(75.9),C.olive);
dash(g,x(0),yL(1.44),x(0.292),yL(1.44),C.olive);
dash(g,x(0),yL(1.71),x(0.436),yL(1.71),C.green);
dash(g,x(0.436),yL(1.71),x(0.436),yL(1),C.green);
dash(g,x(0.436),yR(72.1),x(1.75),yR(72.1),C.green);
dash(g,x(1.485),yR(87.9),x(1.485),yL(1),C.cyan);
thick(g,x(0),yL(2.1),x(0.179),yL(2.1),C.red); solid(g,x(0.179),yL(3),x(0.179),yL(2.0),C.red,3);
thick(g,x(0),yL(1.85),x(1.007),yL(1.85),C.blue); solid(g,x(1.007),yL(3),x(1.007),yL(1.744),C.blue,3);
thick(g,x(0),yL(1.6),x(1.598),yL(1.6),C.mag); solid(g,x(1.598),yL(3),x(1.598),yL(1.5),C.mag,3);
thick(g,x(0.643),yR(84.46),x(0.853),yR(84.46),C.green);
thick(g,x(0.785),yL(1.405),x(0.575),yL(1.405),"#000");
thin(g,x(1.39),yR(86.1),x(1.488),yR(87.75),C.cyan);
T(g,"Spike-like uplift",x(1.036),731,C.cyan,"start",18);
T(g,"of passive rupture",x(1.036),754,C.cyan,"start",18);
T(g,"0.179",x(0.179)-2,yL(2.1)-9,C.red,"end");
T(g,"1.007",x(1.007)-7,yL(1.85)-10,C.blue,"end");
T(g,"1.598",x(1.598)-2,yL(1.6)-10,C.mag,"end");
T(g,"75.9",o.x1+11,yR(75.9)-2,C.olive);
T(g,"72.1",o.x1+11,yR(72.1)+7,C.green);
T(g,"1.71",o.x0-4,yL(1.71)+9,C.green,"end");
T(g,"1.44",o.x0-4,yL(1.44)+12,C.olive,"end");
T(g,"(D_{max}/D_{0})^{2}",o.x0+3,837,C.olive);
upArrow(P,0.292,C.olive); upArrow(P,0.436,C.green); upArrow(P,1.485,C.cyan);
T(g,"0.292",x(0.292)-4,o.y0+49,C.olive,"middle");
T(g,"0.436",x(0.436)+6,o.y0+49,C.green,"middle");
T(g,"1.485",x(1.485)+6,o.y0+49,C.cyan,"middle");
rich(g,1053,910,"(d)"+NB+"T_{amb}=738 K",{size:35,sub:0.24,small:0.6});
axes(P,{xMajor:xTicksCD,xMinor:xMinorCD,yLMajor:dDefTicks,yLMinor:dDefMinor,yLFmt:".1f",yRMajor:simTicks,yRMinor:simMinor});
titles(P,[713,795,"Deformation degree [-]"],[1358,795,"Similarity degree [%]"],[1033,1054]);
}
</script>
</body></html>
